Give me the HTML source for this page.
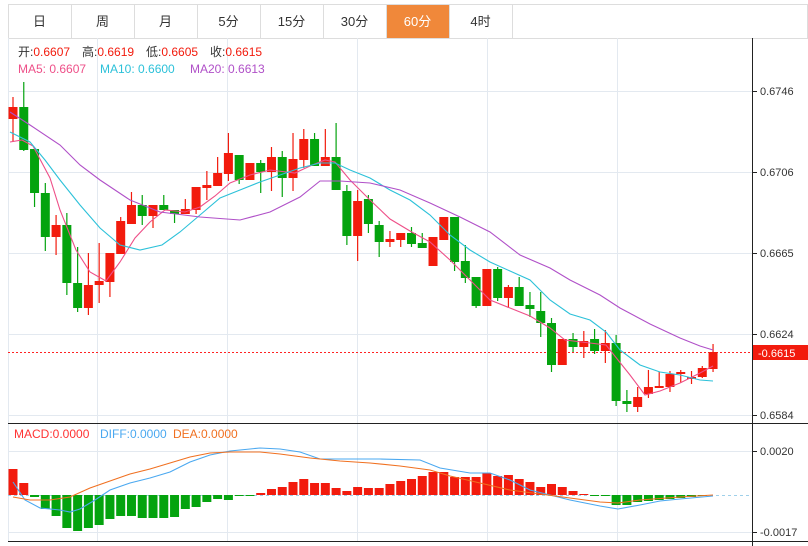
<!DOCTYPE html>
<html><head><meta charset="utf-8"><style>
body{margin:0;background:#fff;font-family:"Liberation Sans","Noto Sans CJK SC",sans-serif}
svg{display:block}
</style></head><body>
<svg id="s" width="808" height="546" xmlns="http://www.w3.org/2000/svg" font-family="Liberation Sans, Noto Sans CJK SC, sans-serif">
<rect width="808" height="546" fill="#fff"/>
<g id="tabs"></g>
<g stroke="#e3e9f0" stroke-width="1">
<line x1="8" y1="91.5" x2="752" y2="91.5"/><line x1="8" y1="172.5" x2="752" y2="172.5"/><line x1="8" y1="253.5" x2="752" y2="253.5"/><line x1="8" y1="334.5" x2="752" y2="334.5"/><line x1="8" y1="415.5" x2="752" y2="415.5"/>
<line x1="8" y1="451.5" x2="752" y2="451.5"/><line x1="8" y1="532.5" x2="752" y2="532.5"/>
<line x1="97.5" y1="38" x2="97.5" y2="541"/><line x1="227.5" y1="38" x2="227.5" y2="541"/><line x1="357.5" y1="38" x2="357.5" y2="541"/><line x1="487.5" y1="38" x2="487.5" y2="541"/><line x1="617.5" y1="38" x2="617.5" y2="541"/>
<line x1="8.5" y1="38" x2="8.5" y2="541"/>
</g>
<line x1="752.5" y1="38" x2="752.5" y2="546" stroke="#222"/>
<line x1="8" y1="423.5" x2="808" y2="423.5" stroke="#222"/>
<line x1="8" y1="541.5" x2="808" y2="541.5" stroke="#222"/>
<g stroke="#222"><line x1="752" y1="91.5" x2="757" y2="91.5"/><line x1="752" y1="172.5" x2="757" y2="172.5"/><line x1="752" y1="253.5" x2="757" y2="253.5"/><line x1="752" y1="334.5" x2="757" y2="334.5"/><line x1="752" y1="415.5" x2="757" y2="415.5"/><line x1="752" y1="451.5" x2="757" y2="451.5"/><line x1="752" y1="532.5" x2="757" y2="532.5"/></g>
<g font-size="11" fill="#333">
<text x="760" y="95">0.6746</text><text x="760" y="176">0.6706</text><text x="760" y="257">0.6665</text><text x="760" y="338">0.6624</text><text x="760" y="419">0.6584</text>
<text x="760" y="455">0.0020</text><text x="760" y="536">-0.0017</text>
</g>
<line x1="8" y1="352.5" x2="752" y2="352.5" stroke="#f22" stroke-dasharray="2,2"/>
<rect x="753" y="345" width="55" height="15" fill="#f21b0d"/>
<text x="758" y="357" font-size="11" fill="#fff">-0.6615</text>
<line x1="8" y1="495.5" x2="752" y2="495.5" stroke="#9fd0ea" stroke-dasharray="3,3"/>
<g id="c"></g>
<g font-size="12">
<text x="18" y="56" fill="#333">开:<tspan fill="#f21b0d">0.6607</tspan></text>
<text x="82" y="56" fill="#333">高:<tspan fill="#f21b0d">0.6619</tspan></text>
<text x="146" y="56" fill="#333">低:<tspan fill="#f21b0d">0.6605</tspan></text>
<text x="210" y="56" fill="#333">收:<tspan fill="#f21b0d">0.6615</tspan></text>
<text x="18" y="73" fill="#ee4f88">MA5: 0.6607</text><text x="100" y="73" fill="#2cc1d9">MA10: 0.6600</text><text x="190" y="73" fill="#b050c8">MA20: 0.6613</text>
<text x="14" y="438" fill="#f33">MACD:0.0000</text><text x="100" y="438" fill="#4aa8f0">DIFF:0.0000</text><text x="173" y="438" fill="#f07020">DEA:0.0000</text>
</g>
</svg>
<script>
var NS="http://www.w3.org/2000/svg";
function el(p,t,a){var e=document.createElementNS(NS,t);for(var k in a)e.setAttribute(k,a[k]);p.appendChild(e);return e;}
var tabs=document.getElementById("tabs");
el(tabs,"rect",{x:8.5,y:4.5,width:799,height:34,fill:"#fff",stroke:"#ddd"});
var names=["日","周","月","5分","15分","30分","60分","4时"];
for(var i=0;i<8;i++){var x=8+i*63;
 if(i==6)el(tabs,"rect",{x:x+1,y:5,width:62,height:33,fill:"#f0883a"});
 el(tabs,"line",{x1:x+63.5,y1:5,x2:x+63.5,y2:38,stroke:"#ddd"});
 var t=el(tabs,"text",{x:x+31.5,y:26,"font-size":13,"text-anchor":"middle",fill:i==6?"#fff":"#333"});t.textContent=names[i];}
var C=[[107,119,97,142,'r'],[107,150,82,151,'g'],[149,193,149,207,'g'],[193,237,183,251,'g'],[225,237,215,255,'r'],[225,283,213,295,'g'],[283,308,247,312,'g'],[285,308,253,315,'r'],[281,285,243,303,'r'],[253,282,253,297,'r'],[221,254,217,254,'r'],[205,224,192,224,'r'],[205,216,195,225,'g'],[205,216,205,228,'r'],[205,210,195,210,'g'],[210,214,210,223,'g'],[209,214,199,214,'r'],[187,210,187,214,'r'],[185,188,171,200,'r'],[173,186,157,186,'r'],[153,174,133,181,'r'],[155,180,155,184,'g'],[163,180,163,180,'r'],[163,172,160,193,'g'],[157,172,147,191,'r'],[157,178,151,197,'g'],[159,178,133,191,'r'],[139,160,129,168,'r'],[139,166,133,166,'g'],[157,166,129,166,'r'],[157,190,123,190,'g'],[191,236,185,245,'g'],[201,236,190,261,'r'],[199,224,195,233,'g'],[225,242,221,257,'g'],[239,242,231,247,'r'],[233,240,233,247,'r'],[233,244,227,247,'g'],[243,248,233,248,'g'],[237,266,237,266,'r'],[217,240,217,240,'r'],[217,262,217,271,'g'],[261,278,245,283,'g'],[277,306,277,308,'g'],[269,306,269,306,'r'],[269,298,267,301,'g'],[287,298,285,308,'r'],[287,306,277,306,'g'],[305,309,292,317,'g'],[311,323,292,337,'g'],[323,365,318,372,'g'],[339,365,339,365,'r'],[339,347,333,352,'g'],[341,347,331,358,'r'],[339,351,329,354,'g'],[343,351,330,363,'r'],[343,401,335,406,'g'],[401,404,390,412,'g'],[397,407,387,412,'r'],[387,394,370,398,'r'],[386,387,372,387,'r'],[374,387,371,392,'r'],[372,374,370,383,'r'],[377,379,371,384,'r'],[368,377,366,378,'r'],[352,369,344,372,'r']];
var g=document.getElementById("c");
function X(i){return 13+i*10.77;}
C.forEach(function(c,i){var x=X(i),col=c[4]=='r'?'#f21b0d':'#04a30e';
 el(g,"line",{x1:x,y1:c[2],x2:x,y2:c[3],stroke:col,"stroke-width":1.2});
 var t=Math.min(c[0],c[1]),h=Math.max(2,Math.abs(c[1]-c[0]));
 el(g,"rect",{x:x-4.5,y:t,width:9,height:h,fill:col});});
function pl(pts,col,w){el(g,"polyline",{points:pts.map(function(p){return p.join(",")}).join(" "),fill:"none",stroke:col,"stroke-width":w||1.1});}
pl([[10,142],[22,140],[33,146],[50,178],[60,210],[76,250],[90,272],[106,281],[120,262],[135,238],[150,222],[165,210],[185,212],[200,207],[215,196],[230,183],[250,175],[270,170],[295,173],[310,166],[325,160],[335,162],[350,180],[370,200],[390,219],[410,231],[430,242],[450,260],[470,280],[490,300],[510,308],[530,316],[550,328],[565,340],[590,343],[606,345],[630,375],[645,395],[660,391],[680,383],[700,373],[713,366]],"#ee4f88");
pl([[10,132],[30,142],[45,160],[60,180],[80,205],[100,228],[120,245],[140,250],[162,245],[180,232],[200,215],[220,198],[240,190],[260,182],[280,175],[300,168],[320,163],[335,163],[350,170],[370,178],[390,190],[410,200],[430,215],[450,235],[470,250],[490,262],[510,271],[530,280],[550,300],[570,314],[590,320],[606,332],[620,350],[640,365],[660,372],[680,375],[700,380],[713,381]],"#2cc1d9");
pl([[10,112],[30,125],[60,145],[80,165],[100,180],[130,200],[160,212],[200,217],[240,220],[270,212],[300,197],[320,181],[340,181],[370,183],[400,190],[430,203],[460,217],[490,232],[520,255],[550,268],[570,280],[600,295],[620,308],[650,324],[680,338],[700,346],[713,350]],"#b050c8");
var M=[26,12,-2,-14,-21,-33,-36,-33,-30,-24,-21,-21,-23,-23,-23,-22,-14,-12,-7,-4,-5,-1,-1,2,6,8,13,16,12,12,7,4,8,7,7,11,14,16,19,23,23,18,18,18,22,19,20,16,13,8,11,8,4,1,-1,-1,-10,-10,-7,-6,-5,-4,-3,-2,-1,0];
M.forEach(function(v,i){var x=X(i);if(v==0)return;
 el(g,"rect",{x:x-4.5,y:v>0?495-v:495,width:9,height:Math.abs(v),fill:v>0?'#f21b0d':'#04a30e'});});
pl([[13,482],[25,500],[40,508],[60,510],[70,512],[80,509],[95,500],[110,490],[130,483],[150,478],[170,472],[190,462],[210,455],[230,451],[260,448],[280,449],[300,452],[320,459],[340,459],[380,459],[420,460],[440,468],[470,473],[490,473],[510,480],[530,490],[550,495],[570,500],[600,506],[618,509],[640,505],[660,501],[680,499],[713,496]],"#4aa8f0");
pl([[13,497],[30,500],[50,500],[70,497],[90,488],[110,481],[130,474],[150,469],[170,463],[190,457],[210,453],[230,452],[260,452],[280,454],[310,458],[340,461],[370,463],[400,466],[430,470],[450,476],[480,483],[510,490],[540,494],[570,498],[600,502],[618,503],[640,500],[680,497],[713,495]],"#f07020");
</script>
</body></html>
